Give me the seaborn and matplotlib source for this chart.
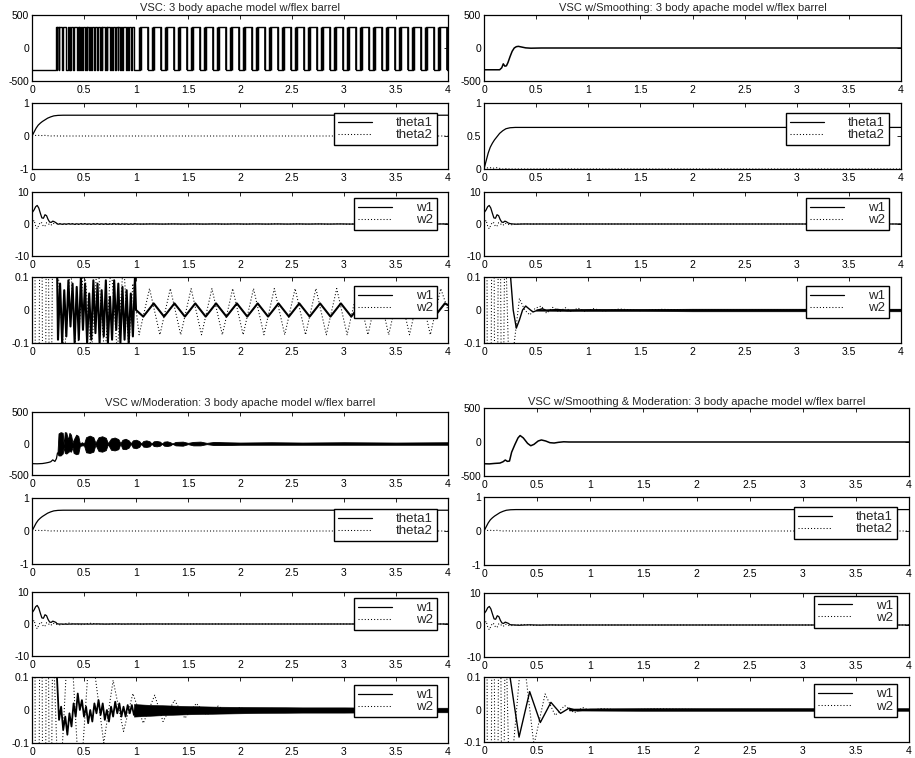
from __future__ import annotations

import matplotlib

matplotlib.use("Agg")
import matplotlib.pyplot as plt
import pandas as pd
import seaborn as sns

FIG_W, FIG_H = 915, 758

X_TICKS = [0, 0.5, 1, 1.5, 2, 2.5, 3, 3.5, 4]
X_TICK_LABELS = ["0", "0.5", "1", "1.5", "2", "2.5", "3", "3.5", "4"]

TITLE_VSC = "VSC: 3 body apache model w/flex barrel"
TITLE_SMO = "VSC w/Smoothing: 3 body apache model w/flex barrel"
TITLE_MOD = "VSC w/Moderation: 3 body apache model w/flex barrel"
TITLE_BOTH = "VSC w/Smoothing & Moderation: 3 body apache model w/flex barrel"

# --- control input, plain VSC (switching times between the two levels)
U_HIGH = 320
U_LOW = -330
VSC_RISE = [0.230, 0.245, 0.262, 0.300, 0.350, 0.362, 0.376, 0.400, 0.440, 0.455, 0.470,
            0.490, 0.515, 0.530, 0.560, 0.575, 0.610, 0.630, 0.660, 0.675, 0.710, 0.725,
            0.760, 0.775, 0.810, 0.830, 0.860, 0.875, 0.910, 0.930, 0.965,
            1.040, 1.165, 1.290, 1.415, 1.540, 1.665, 1.790, 1.915, 2.040, 2.165, 2.290,
            2.415, 2.540, 2.665, 2.790, 2.915, 3.040, 3.165, 3.290, 3.415, 3.540, 3.665,
            3.790, 3.915]
VSC_FALL = [0.240, 0.255, 0.285, 0.330, 0.356, 0.370, 0.390, 0.430, 0.450, 0.465, 0.485,
            0.505, 0.525, 0.550, 0.570, 0.600, 0.625, 0.650, 0.670, 0.700, 0.720, 0.750,
            0.770, 0.800, 0.825, 0.850, 0.870, 0.900, 0.925, 0.955, 0.980,
            1.115, 1.240, 1.365, 1.490, 1.615, 1.740, 1.865, 1.990, 2.115, 2.240, 2.365,
            2.490, 2.615, 2.740, 2.865, 2.990, 3.115, 3.240, 3.365, 3.490, 3.615, 3.740,
            3.865, 3.990]
CHATTER_END = 1.0  # after this the switching settles into a regular square wave

# --- control input, smoothing
SMO_U_T = [0, 0.15, 0.17, 0.185, 0.20, 0.215, 0.23, 0.25, 0.27, 0.29, 0.31, 0.33, 0.36,
           0.40, 0.45, 0.55, 4.0]
SMO_U = [-330, -330, -300, -240, -275, -270, -220, -130, -50, 0, 20, 25, 15, 2, -3, 0, 0]

# --- control input, moderation (line before chatter, then chatter envelope)
MOD_U_T = [0, 0.05, 0.10, 0.13, 0.16, 0.18, 0.20, 0.22, 0.235, 0.245]
MOD_U = [-320, -322, -318, -310, -300, -290, -260, -285, -240, -150]
MOD_ENV_T = [0.245, 0.255, 0.275, 0.295, 0.305, 0.315, 0.330, 0.345, 0.360, 0.375, 0.390,
             0.400, 0.425, 0.445, 0.460, 0.480, 0.500, 0.520, 0.555, 0.590, 0.610, 0.640,
             0.675, 0.710, 0.730, 0.760, 0.795, 0.830, 0.850, 0.870, 0.900, 0.930, 0.950,
             0.970, 1.000, 1.030, 1.050, 1.070, 1.100, 1.130, 1.150, 1.170, 1.200, 1.230,
             1.250, 1.270, 1.300, 1.330, 1.350, 1.380, 1.450, 1.500, 1.550, 1.620, 1.680,
             1.750, 1.850, 2.000, 2.300, 2.600, 3.000, 3.500, 4.000]
MOD_ENV_HI = [-150, 160, 180, 170, -20, 180, 175, 60, 170, 140, 10, 60, 140, 120, 0, 20, 0,
              100, 125, 100, 10, 100, 115, 90, 5, 80, 95, 70, 5, 60, 75, 50, 5, 50, 60, 40,
              0, 40, 50, 35, 0, 35, 40, 30, 0, 30, 35, 20, 0, 25, 30, 10, 25, 30, 10, 25,
              20, 15, 20, 15, 20, 15, 20]
MOD_ENV_LO = [-160, -190, -190, -160, -60, -150, -160, -140, -120, -130, -60, -150, -170,
              -160, -40, -30, -30, -140, -150, -130, -20, -120, -130, -105, -10, -100, -110,
              -90, -5, -85, -90, -65, -5, -65, -75, -55, -5, -50, -55, -45, -5, -40, -45,
              -35, -5, -35, -40, -30, -5, -30, -35, -10, -30, -30, -10, -25, -25, -20, -20,
              -20, -20, -20, -20]

# --- control input, smoothing & moderation
BOTH_U_T = [0, 0.05, 0.10, 0.15, 0.18, 0.20, 0.22, 0.24, 0.26, 0.29, 0.32, 0.34, 0.37,
            0.41, 0.44, 0.47, 0.51, 0.54, 0.58, 0.62, 0.66, 0.70, 0.75, 0.80, 4.0]
BOTH_U = [-320, -322, -315, -310, -290, -265, -285, -280, -150, -40, 60, 95, 60, -20, -55,
          -35, 15, 30, 15, -10, -15, -5, 3, 0, 0]

# --- joint angles (same in all four runs)
THETA_T = [0, 0.02, 0.04, 0.06, 0.08, 0.10, 0.12, 0.15, 0.18, 0.21, 0.25, 0.30, 4.0]
THETA1 = [0, 0.12, 0.24, 0.33, 0.39, 0.44, 0.48, 0.54, 0.58, 0.61, 0.625, 0.63, 0.63]
THETA2 = [0, 0.01, 0.02, 0.02, 0.01, 0.015, 0.02, 0.01, 0.0, 0.005, 0.0, 0.0, 0.0]

# --- rates, shared start-up transient
W_T0 = [0.00, 0.02, 0.035, 0.05, 0.065, 0.08, 0.095, 0.11, 0.125, 0.14, 0.155, 0.17,
        0.185, 0.20, 0.215]
W1_0 = [3.5, 4.4, 5.4, 5.8, 5.0, 3.4, 1.9, 1.8, 2.9, 2.6, 1.4, 0.6, 0.5, 0.9, 0.7]
W2_0 = [0.0, 1.2, -0.6, -1.5, -0.4, 0.6, 0.3, -0.8, -0.6, 0.4, 0.3, -0.4, -0.3, 0.25, 0.1]

# --- rates after the transient, plain VSC
VSC_W1_T = [0.23, 0.25, 0.27, 0.29, 0.31, 0.33, 0.35, 0.37, 0.39, 0.41, 0.43, 0.45, 0.47,
            0.49, 0.51, 0.53, 0.55, 0.57, 0.59, 0.61, 0.63, 0.65, 0.67, 0.69, 0.71, 0.73,
            0.75, 0.77, 0.79, 0.81, 0.83, 0.85, 0.87, 0.89, 0.91, 0.93, 0.95, 0.97, 0.99,
            1.00, 1.07, 1.17, 1.27, 1.37, 1.47, 1.57, 1.67, 1.77, 1.87, 1.97, 2.07, 2.17,
            2.27, 2.37, 2.47, 2.57, 2.67, 2.77, 2.87, 2.97, 3.07, 3.17, 3.27, 3.37, 3.47,
            3.57, 3.67, 3.77, 3.87, 3.97, 4.00]
VSC_W1 = [0.40, -0.09, 0.08, -0.10, 0.06, -0.08, 0.09, -0.05, 0.08, -0.10, 0.07, -0.09,
          0.10, -0.06, 0.08, -0.10, 0.05, -0.09, 0.09, -0.07, 0.08, -0.10, 0.06, -0.08,
          0.09, -0.10, 0.04, -0.09, 0.09, -0.06, 0.08, -0.10, 0.07, -0.09, 0.06, -0.10,
          0.05, -0.08, 0.10, 0.00, -0.02, 0.02, -0.02, 0.02, -0.02, 0.02, -0.02, 0.02,
          -0.02, 0.02, -0.02, 0.02, -0.02, 0.02, -0.02, 0.02, -0.02, 0.02, -0.02, 0.02,
          -0.02, 0.02, -0.02, 0.02, -0.02, 0.02, -0.02, 0.02, -0.02, 0.02, 0.015]
VSC_W2_T = [0.25, 0.31, 0.37, 0.43, 0.50, 0.57, 0.63, 0.70, 0.76, 0.82, 0.88, 0.93, 0.97,
            1.03, 1.13, 1.23, 1.33, 1.43, 1.53, 1.63, 1.73, 1.83, 1.93, 2.03, 2.13, 2.23,
            2.33, 2.43, 2.53, 2.63, 2.73, 2.83, 2.93, 3.03, 3.13, 3.23, 3.33, 3.43, 3.53,
            3.63, 3.73, 3.83, 3.93, 4.00]
VSC_W2 = [0.12, -0.15, 0.14, -0.16, 0.15, -0.14, 0.16, -0.15, 0.14, -0.13, 0.15, -0.12,
          0.08, -0.075, 0.065, -0.075, 0.065, -0.075, 0.065, -0.075, 0.065, -0.075, 0.065,
          -0.075, 0.065, -0.075, 0.065, -0.075, 0.065, -0.075, 0.065, -0.075, 0.065,
          -0.075, 0.065, -0.075, 0.065, -0.075, 0.065, -0.075, 0.065, -0.075, 0.065, 0.0]

# --- rates after the transient, smoothing
SMO_W1_T = [0.23, 0.25, 0.28, 0.31, 0.34, 0.37, 0.40, 0.43, 0.47, 0.52, 0.56, 0.60, 0.70,
            0.80, 1.00, 4.00]
SMO_W1 = [0.35, 0.12, 0.0, -0.055, -0.03, 0.0, 0.012, 0.004, -0.006, 0.0, 0.004, -0.002,
          0.002, -0.002, 0.0, 0.0]
SMO_W2_T = [0.25, 0.29, 0.34, 0.39, 0.44, 0.49, 0.55, 0.60, 0.66, 0.72, 0.78, 0.84, 0.90,
            0.97, 1.05, 1.15, 1.30, 1.50, 1.70, 2.00, 4.00]
SMO_W2 = [-0.30, -0.10, 0.035, 0.0, -0.015, 0.005, 0.012, -0.01, 0.008, -0.006, 0.007,
          -0.005, 0.006, -0.004, 0.004, -0.003, 0.003, -0.002, 0.002, 0.0, 0.0]
SMO_BAND_T = [0.5, 1.0, 1.5, 2.0, 4.0]
SMO_BAND_HI = [0.002, 0.003, 0.003, 0.004, 0.004]
SMO_BAND_LO = [-0.002, -0.003, -0.003, -0.004, -0.004]

# --- rates after the transient, moderation
MOD_W1_T = [0.23, 0.24, 0.26, 0.28, 0.30, 0.32, 0.34, 0.36, 0.38, 0.40, 0.42, 0.44, 0.46,
            0.48, 0.50, 0.52, 0.54, 0.56, 0.58, 0.60, 0.62, 0.64, 0.66, 0.68, 0.70, 0.72,
            0.74, 0.76, 0.78, 0.80, 0.82, 0.84, 0.86, 0.88, 0.90, 0.92, 0.94, 0.96, 0.98,
            1.00, 1.05, 1.10, 1.50, 4.00]
MOD_W1 = [0.5, 0.10, -0.03, 0.01, -0.06, -0.02, -0.075, -0.01, -0.05, 0.02, -0.02, 0.05,
          0.0, 0.03, -0.02, 0.01, -0.04, 0.0, -0.035, 0.02, -0.01, 0.03, -0.015, 0.02,
          -0.03, 0.0, -0.035, 0.01, -0.02, 0.025, -0.01, 0.02, -0.02, 0.01, -0.02, 0.015,
          -0.01, 0.015, -0.015, 0.01, -0.01, 0.01, 0.0, 0.0]
MOD_W2_T = [0.26, 0.36, 0.46, 0.56, 0.69, 0.78, 0.88, 0.97, 1.07, 1.18, 1.26, 1.37, 1.47,
            1.58, 1.68, 1.79, 1.90, 2.00, 2.10, 2.30, 2.50, 3.00, 3.50, 4.00]
MOD_W2 = [-0.30, 0.30, -0.25, 0.22, -0.10, 0.09, -0.065, 0.05, -0.04, 0.045, -0.035, 0.03,
          -0.025, 0.02, -0.015, 0.012, -0.01, 0.008, -0.006, 0.005, -0.004, 0.003, -0.003,
          0.0]
MOD_BAND_T = [0.98, 1.10, 1.30, 1.50, 1.80, 2.20, 2.60, 3.00, 3.50, 4.00]
MOD_BAND_HI = [0.018, 0.016, 0.014, 0.012, 0.010, 0.009, 0.008, 0.008, 0.007, 0.007]
MOD_BAND_LO = [-0.02, -0.018, -0.015, -0.013, -0.011, -0.009, -0.008, -0.008, -0.007, -0.007]

# --- rates after the transient, smoothing & moderation
BOTH_W1_T = [0.23, 0.245, 0.33, 0.43, 0.53, 0.63, 0.72, 0.80, 0.88, 1.00, 4.00]
BOTH_W1 = [0.50, 0.10, -0.085, 0.055, -0.04, 0.022, -0.012, 0.004, -0.004, 0.0, 0.0]
BOTH_W2_T = [0.24, 0.36, 0.47, 0.575, 0.67, 0.76, 0.85, 0.93, 1.00, 1.10, 1.30, 1.60, 2.00,
             4.00]
BOTH_W2 = [-0.25, 0.20, -0.11, 0.048, -0.018, 0.012, -0.01, 0.006, -0.004, 0.003, -0.002,
           0.002, 0.0, 0.0]
BOTH_BAND_T = [0.8, 1.5, 2.5, 4.0]
BOTH_BAND_HI = [0.003, 0.004, 0.004, 0.004]
BOTH_BAND_LO = [-0.003, -0.004, -0.004, -0.004]

DOT = (0, (1, 2))


def px_rect(left, top, right, bottom):
    return [left / FIG_W, 1 - bottom / FIG_H, (right - left) / FIG_W, (bottom - top) / FIG_H]


def line(ax, t, y, dotted=False, lw=0.9, drawstyle="default"):
    df = pd.DataFrame({"t": t, "y": y})
    sns.lineplot(data=df, x="t", y="y", ax=ax, estimator=None, sort=False, color="black",
                 linewidth=0.75 if dotted else lw, linestyle=DOT if dotted else "-",
                 drawstyle=drawstyle, legend=False)
    return ax.lines[-1]


def style_axes(ax, ylim, yticks, ylabels):
    ax.set_xlim(0, 4)
    ax.set_ylim(*ylim)
    ax.set_xticks(X_TICKS)
    ax.set_xticklabels(X_TICK_LABELS)
    ax.set_yticks(yticks)
    ax.set_yticklabels(ylabels)
    ax.set_xlabel("")
    ax.set_ylabel("")
    ax.tick_params(direction="in", top=True, right=True, length=3, width=0.6,
                   labelsize=7.5, colors="black")
    ax.tick_params(axis="x", pad=3)
    ax.tick_params(axis="y", pad=2)
    for s in ax.spines.values():
        s.set_visible(True)
        s.set_color("black")
        s.set_linewidth(0.9)


def add_legend(ax, handles, labels, xf, yf):
    leg = ax.legend(handles, labels, loc="upper right", bbox_to_anchor=(xf, yf),
                    borderaxespad=0, frameon=True, fancybox=False, framealpha=1,
                    edgecolor="black", fontsize=9.5, handlelength=2.6, handletextpad=1.8,
                    borderpad=0.3, labelspacing=0.0)
    leg.get_frame().set_linewidth(1.0)
    leg.get_lines()[0].set_linewidth(0.9)


def draw_u_vsc(ax):
    events = sorted([(t, U_HIGH) for t in VSC_RISE] + [(t, U_LOW) for t in VSC_FALL])
    ts = [0] + [e[0] for e in events] + [4.0]
    us = [U_LOW] + [e[1] for e in events] + [events[-1][1]]
    line(ax, ts, us, lw=1.0, drawstyle="steps-post")
    # in the regular part the chattering at each switch shows as thick edges
    rises = [t for t in VSC_RISE if t > CHATTER_END]
    falls = [t for t in VSC_FALL if t > CHATTER_END]
    ax.vlines(rises, U_LOW, U_HIGH, colors="black", linewidths=2.5, zorder=3)
    ax.vlines(falls, U_LOW, U_HIGH, colors="black", linewidths=1.2, zorder=3)


def draw_u_smo(ax):
    line(ax, SMO_U_T, SMO_U, lw=1.1)


def draw_u_mod(ax):
    line(ax, MOD_U_T, MOD_U, lw=0.9)
    ax.fill_between(MOD_ENV_T, MOD_ENV_LO, MOD_ENV_HI, color="black", linewidth=0.6)


def draw_u_both(ax):
    line(ax, BOTH_U_T, BOTH_U, lw=1.1)


GROUPS = [
    dict(title=TITLE_VSC, xs=(32, 448), rows=[(15, 81), (103, 169), (192, 256), (277, 343)],
         pad=3, draw_u=draw_u_vsc, theta_half=False, w1_t=VSC_W1_T, w1=VSC_W1,
         w2_t=VSC_W2_T, w2=VSC_W2, band=None, w1_lw=1.5, leg_x=0.974,
         leg_y=[0.848, 0.906, 0.864]),
    dict(title=TITLE_SMO, xs=(484, 901), rows=[(15, 81), (103, 169), (192, 256), (277, 343)],
         pad=3, draw_u=draw_u_smo, theta_half=True, w1_t=SMO_W1_T, w1=SMO_W1,
         w2_t=SMO_W2_T, w2=SMO_W2, band=(SMO_BAND_T, SMO_BAND_LO, SMO_BAND_HI), w1_lw=1.0,
         leg_x=0.971, leg_y=[0.848, 0.906, 0.864]),
    dict(title=TITLE_MOD, xs=(32, 448), rows=[(412, 475), (498, 564), (592, 656), (677, 743)],
         pad=4.5, draw_u=draw_u_mod, theta_half=False, w1_t=MOD_W1_T, w1=MOD_W1,
         w2_t=MOD_W2_T, w2=MOD_W2, band=(MOD_BAND_T, MOD_BAND_LO, MOD_BAND_HI), w1_lw=1.3,
         leg_x=0.974, leg_y=[0.833, 0.906, 0.879]),
    dict(title=TITLE_BOTH, xs=(484, 909), rows=[(408, 476), (497, 565), (593, 657), (677, 742)],
         pad=2.5, draw_u=draw_u_both, theta_half=False, w1_t=BOTH_W1_T, w1=BOTH_W1,
         w2_t=BOTH_W2_T, w2=BOTH_W2, band=(BOTH_BAND_T, BOTH_BAND_LO, BOTH_BAND_HI),
         w1_lw=1.0, leg_x=0.972, leg_y=[0.853, 0.96, 0.89]),
]


def draw_group(fig, g):
    left, right = g["xs"]
    axes = [fig.add_axes(px_rect(left, top, right, bottom)) for top, bottom in g["rows"]]
    w1_t = W_T0 + g["w1_t"]
    w1 = W1_0 + g["w1"]
    w2_t = W_T0 + g["w2_t"]
    w2 = W2_0 + g["w2"]

    # control input
    ax = axes[0]
    g["draw_u"](ax)
    style_axes(ax, (-500, 500), [-500, 0, 500], ["-500", "0", "500"])
    ax.set_title(g["title"], fontsize=8, pad=g["pad"])

    # angles
    ax = axes[1]
    h1 = line(ax, THETA_T, THETA1)
    h2 = line(ax, THETA_T, THETA2, dotted=True)
    if g["theta_half"]:
        style_axes(ax, (0, 1), [0, 0.5, 1], ["0", "0.5", "1"])
    else:
        style_axes(ax, (-1, 1), [-1, 0, 1], ["-1", "0", "1"])
    add_legend(ax, [h1, h2], ["theta1", "theta2"], g["leg_x"], g["leg_y"][0])

    # rates
    ax = axes[2]
    h1 = line(ax, w1_t, w1)
    h2 = line(ax, w2_t, w2, dotted=True)
    style_axes(ax, (-10, 10), [-10, 0, 10], ["-10", "0", "10"])
    add_legend(ax, [h1, h2], ["w1", "w2"], g["leg_x"], g["leg_y"][1])

    # rates, zoomed in
    ax = axes[3]
    h2 = line(ax, w2_t, w2, dotted=True)
    h1 = line(ax, w1_t, w1, lw=g["w1_lw"])
    if g["band"] is not None:
        bt, blo, bhi = g["band"]
        ax.fill_between(bt, blo, bhi, color="black", linewidth=0.4)
    style_axes(ax, (-0.1, 0.1), [-0.1, 0, 0.1], ["-0.1", "0", "0.1"])
    add_legend(ax, [h1, h2], ["w1", "w2"], g["leg_x"], g["leg_y"][2])


def main() -> None:
    sns.set_theme(style="white")
    plt.rcParams["font.family"] = ["Liberation Sans", "DejaVu Sans"]
    plt.rcParams["axes.unicode_minus"] = False

    fig = plt.figure(figsize=(FIG_W / 100, FIG_H / 100), dpi=100)
    fig.patch.set_facecolor("white")
    for g in GROUPS:
        draw_group(fig, g)
    fig.savefig("out.png", dpi=100)
    plt.close(fig)


if __name__ == "__main__":
    main()
